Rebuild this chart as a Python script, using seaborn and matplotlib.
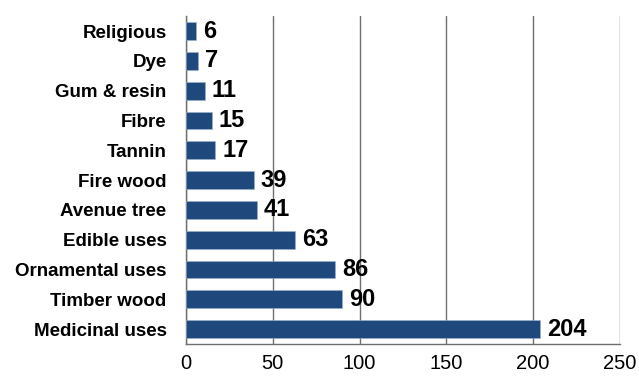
import matplotlib
matplotlib.use("Agg")
import matplotlib.pyplot as plt
import seaborn as sns
import pandas as pd
import numpy as np

categories = ["Religious", "Dye", "Gum & resin", "Fibre", "Tannin", "Fire wood",
              "Avenue tree", "Edible uses", "Ornamental uses", "Timber wood", "Medicinal uses"]
values = [6, 7, 11, 15, 17, 39, 41, 63, 86, 90, 204]
xticks = [0, 50, 100, 150, 200, 250]

sns.set_style("white")
plt.rcParams["font.family"] = ["Liberation Sans", "DejaVu Sans"]
plt.rcParams["text.color"] = "black"
plt.rcParams["xtick.color"] = "black"
plt.rcParams["ytick.color"] = "black"

df = pd.DataFrame({"use": categories, "count": values})

fig = plt.figure(figsize=(6.39, 3.76), dpi=100)
ax = fig.add_axes([0.291, 0.085, 0.679, 0.872])

sns.barplot(data=df, y="use", x="count", orient="h", color="#1F497D",
            saturation=1, width=0.6, ax=ax, edgecolor="#9DB3CF", linewidth=0.4, zorder=3)

ax.set_xlim(0, 250)
ax.set_ylim(len(categories) - 0.5, -0.5)
ax.set_xticks(xticks)
ax.set_xticklabels([str(t) for t in xticks], fontsize=14.5, color="black")
ax.set_xlabel("")
ax.set_ylabel("")
ax.grid(axis="x", color="#6f6f6f", linewidth=1.0, zorder=0)
ax.grid(axis="y", visible=False)

# category labels
ax.set_yticks(range(len(categories)))
ax.set_yticklabels(categories, fontsize=13.5, fontweight="bold", color="black")
ax.tick_params(axis="y", length=0, pad=14)
# boundary ticks on the left spine
ax.set_yticks(np.arange(-0.5, len(categories), 1.0), minor=True)
ax.tick_params(axis="y", which="minor", length=5, color="#6f6f6f", direction="out")
ax.tick_params(axis="x", length=5, color="#6f6f6f", direction="out", pad=2)

for s in ["top", "right"]:
    ax.spines[s].set_visible(False)
for s in ["left", "bottom"]:
    ax.spines[s].set_color("#6f6f6f")
    ax.spines[s].set_linewidth(1.0)

for i, v in enumerate(values):
    ax.annotate(str(v), xy=(v, i), xytext=(5, 0), textcoords="offset points",
                va="center", ha="left", fontsize=17, fontweight="bold", color="black")

fig.savefig("out.png", dpi=100)
